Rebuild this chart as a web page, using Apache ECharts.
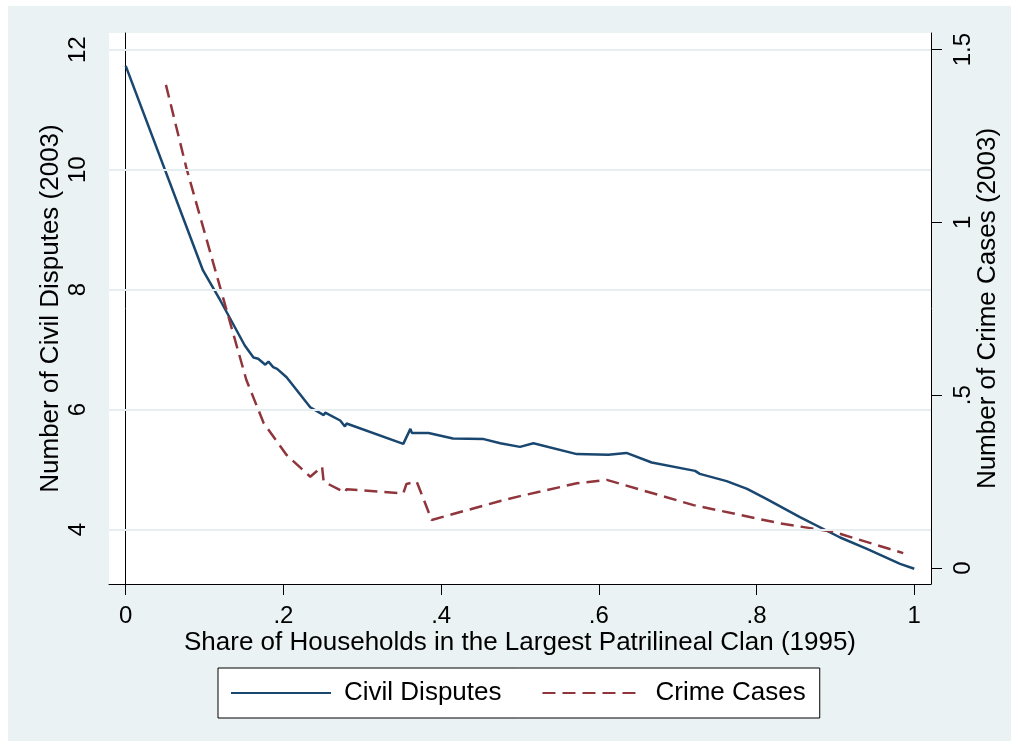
<!DOCTYPE html>
<html>
<head>
<meta charset="utf-8">
<script src="https://cdn.jsdelivr.net/npm/echarts@6/dist/echarts.min.js"></script>
<style>
html,body{margin:0;padding:0;background:#fff;}
#chart{width:1018px;height:747px;}
</style>
</head>
<body>
<div id="chart"></div>
<script>
// ---- data ----
const xTicks = [0, 0.2, 0.4, 0.6, 0.8, 1];
const xTickLabels = ['0', '.2', '.4', '.6', '.8', '1'];
const leftTicks = [4, 6, 8, 10, 12];
const rightTicks = [0, 0.5, 1, 1.5];
const rightTickLabels = ['0', '.5', '1', '1.5'];

const civilX = [0.000, 0.098, 0.120, 0.151, 0.162, 0.168, 0.177, 0.181, 0.187, 0.192, 0.204, 0.234, 0.251, 0.253, 0.272, 0.278, 0.280, 0.352, 0.361, 0.363, 0.384, 0.415, 0.454, 0.475, 0.500, 0.517, 0.572, 0.612, 0.635, 0.667, 0.722, 0.728, 0.762, 0.788, 0.813, 0.855, 0.906, 0.940, 0.982, 1.000];
const civilY = [11.73, 8.32, 7.82, 7.07, 6.87, 6.85, 6.75, 6.80, 6.71, 6.68, 6.54, 6.04, 5.91, 5.95, 5.82, 5.72, 5.77, 5.43, 5.68, 5.61, 5.61, 5.52, 5.51, 5.44, 5.38, 5.44, 5.26, 5.25, 5.28, 5.12, 4.98, 4.93, 4.81, 4.68, 4.51, 4.21, 3.87, 3.68, 3.43, 3.35];

const crimeX = [0.051, 0.077, 0.120, 0.153, 0.175, 0.204, 0.234, 0.249, 0.251, 0.278, 0.280, 0.352, 0.356, 0.369, 0.388, 0.475, 0.500, 0.572, 0.610, 0.720, 0.830, 0.897, 0.986];
const crimeY = [1.398, 1.157, 0.810, 0.544, 0.419, 0.327, 0.264, 0.293, 0.250, 0.218, 0.228, 0.216, 0.243, 0.250, 0.139, 0.194, 0.208, 0.245, 0.255, 0.182, 0.129, 0.105, 0.043];

const civil = civilX.map((x, i) => [x, civilY[i]]);
const crime = crimeX.map((x, i) => [x, crimeY[i]]);

const FONT = '"Liberation Sans", Arial, sans-serif';
const BLUE = '#1a476f';
const RED = '#90353b';

const chart = echarts.init(document.getElementById('chart'), null, {renderer: 'canvas'});
chart.setOption({
  backgroundColor: '#ffffff',
  animation: false,
  graphic: [{
    type: 'rect', z: -10, silent: true,
    shape: {x: 8, y: 6, width: 1003, height: 735},
    style: {fill: '#eaf2f3'}
  }],
  grid: {
    left: 109, right: 87, top: 33, bottom: 163,
    show: true, backgroundColor: '#ffffff', borderWidth: 0
  },
  legend: {
    left: 218, top: 668,
    backgroundColor: '#ffffff', borderColor: '#000', borderWidth: 1, borderRadius: 0,
    padding: [12, 14, 12, 12],
    itemWidth: 100, itemHeight: 20, itemGap: 40,
    itemStyle: {opacity: 0},
    textStyle: {fontFamily: FONT, fontSize: 26, color: '#000', padding: [0, 0, 0, 8]},
    data: ['Civil Disputes', 'Crime Cases']
  },
  xAxis: {
    type: 'value', min: -0.0212, max: 1.0212,
    name: 'Share of Households in the Largest Patrilineal Clan (1995)',
    nameLocation: 'middle', nameGap: 46, nameMoveOverlap: false,
    nameTextStyle: {fontFamily: FONT, fontSize: 26, color: '#000'},
    axisLine: {show: true, onZero: false, lineStyle: {color: '#000', width: 1}},
    axisTick: {show: true, length: 11, customValues: xTicks, lineStyle: {color: '#000'}},
    axisLabel: {
      customValues: xTicks, margin: 20,
      fontFamily: FONT, fontSize: 24, color: '#000',
      formatter: v => { const i = xTicks.indexOf(v); return i >= 0 ? xTickLabels[i] : ''; }
    },
    splitLine: {show: false}
  },
  yAxis: [{
    type: 'value', position: 'left', min: 3.095, max: 12.278,
    name: 'Number of Civil Disputes (2003)', nameLocation: 'middle', nameGap: 45, nameRotate: 90,
    nameMoveOverlap: false,
    nameTextStyle: {fontFamily: FONT, fontSize: 26, color: '#000'},
    axisLine: {show: true, lineStyle: {color: '#000', width: 1}},
    axisTick: {show: true, length: 11, customValues: leftTicks, lineStyle: {color: '#000'}},
    axisLabel: {customValues: leftTicks, rotate: 90, margin: 19, fontFamily: FONT, fontSize: 24, color: '#000'},
    splitLine: {show: false}
  }, {
    type: 'value', position: 'right', min: -0.0463, max: 1.548,
    name: 'Number of Crime Cases (2003)', nameLocation: 'middle', nameGap: 44, nameRotate: 90,
    nameMoveOverlap: false,
    nameTextStyle: {fontFamily: FONT, fontSize: 26, color: '#000'},
    axisLine: {show: true, lineStyle: {color: '#000', width: 1}},
    axisTick: {show: true, length: 11, customValues: rightTicks, lineStyle: {color: '#000'}},
    axisLabel: {
      customValues: rightTicks, rotate: 90, margin: 20, fontFamily: FONT, fontSize: 24, color: '#000',
      formatter: v => { const i = rightTicks.indexOf(v); return i >= 0 ? rightTickLabels[i] : ''; }
    },
    splitLine: {show: false}
  }],
  series: [{
    name: 'gridlines', type: 'line', yAxisIndex: 0, data: [], z: 1, silent: true,
    markLine: {
      silent: true, symbol: ['none', 'none'], label: {show: false},
      lineStyle: {color: '#e6eef1', width: 2, type: 'solid'},
      data: leftTicks.map(v => ({yAxis: v}))
    }
  }, {
    name: 'Civil Disputes', type: 'line', yAxisIndex: 0, data: civil, z: 3,
    symbol: 'none', showSymbol: false,
    lineStyle: {color: BLUE, width: 2.5, type: 'solid'}, itemStyle: {color: BLUE}
  }, {
    name: 'Crime Cases', type: 'line', yAxisIndex: 1, data: crime, z: 3,
    symbol: 'none', showSymbol: false,
    lineStyle: {color: RED, width: 2.5, type: [13, 7]}, itemStyle: {color: RED}
  }]
});
</script>
</body>
</html>
